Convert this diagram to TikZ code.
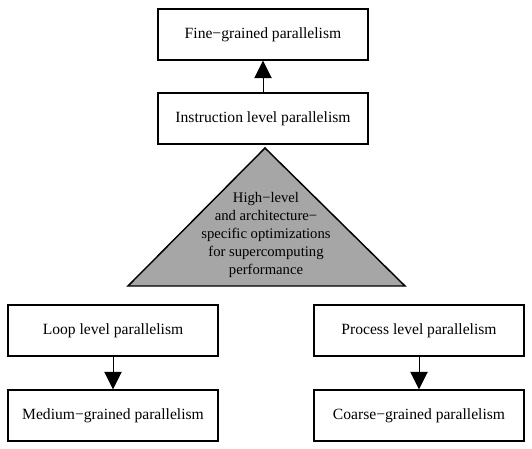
\documentclass[tikz,border=0pt]{standalone}
\usepackage{fontspec}
\setmainfont{Liberation Serif}
\usetikzlibrary{arrows.meta,positioning}

\tikzset{
  levelbox/.style={draw, line width=1.1pt, minimum width=157.5pt, minimum height=38.25pt,
    inner sep=0pt, font=\fontsize{11.7}{14}\selectfont},
  uparrow/.style={-{Triangle[length=13pt,width=13pt]}, line width=0.7pt}
}

\begin{document}
\begin{tikzpicture}[x=0.75pt, y=-0.75pt]
            \useasboundingbox (0,0) rectangle (532,449);

            % Boxes of the two sides
            \node[levelbox] (fine) at (263,34.5) {Fine−grained parallelism};
            \node[levelbox] (instr) at (263,118.5) {Instruction level parallelism};
            \node[levelbox] (loop) at (113,330.5) {Loop level parallelism};
            \node[levelbox] (medium) at (113,415.5) {Medium−grained parallelism};
            \node[levelbox] (process) at (419,330.5) {Process level parallelism};
            \node[levelbox] (coarse) at (419,415.5) {Coarse−grained parallelism};

            % Central triangle
            \draw[line width=1.1pt, fill=black!35] (265,148) -- (405,286) -- (128,286) -- cycle;
            \node[align=center, font=\fontsize{11}{13.6}\selectfont] (core) at (266,235)
              {High−level\\and architecture−\\specific optimizations\\for supercomputing\\performance};

            % Arrows
            \draw[uparrow] (instr.north) -- (fine.south);
            \draw[uparrow] (loop.south) -- (medium.north);
            \draw[uparrow] (process.south) -- (coarse.north);
        \end{tikzpicture}
\end{document}
